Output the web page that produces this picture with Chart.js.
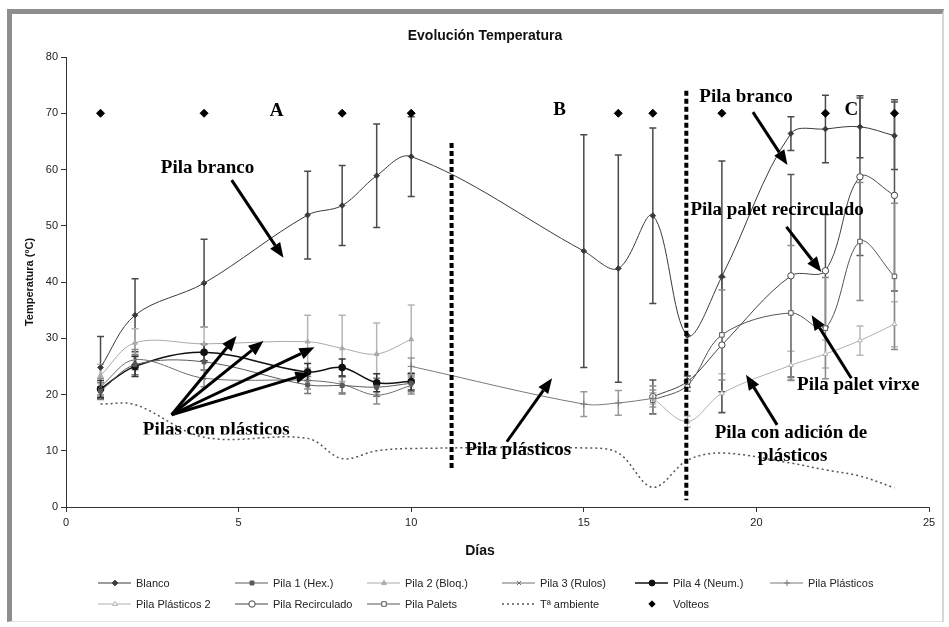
<!DOCTYPE html>
<html>
<head>
<meta charset="utf-8">
<script src="https://cdn.jsdelivr.net/npm/chart.js@4.4.0/dist/chart.umd.min.js"></script>
<style>
html, body { margin: 0; padding: 0; background: #fff; }
#marco { position: absolute; left: 7px; top: 9px; width: 930px; height: 607px;
  border-top: 5px solid #8e8e8e; border-left: 5px solid #8e8e8e;
  border-right: 2px solid #d6d6d6; border-bottom: 1px solid #e2e2e2; }
#grafico { position: absolute; left: 0; top: 0; }
</style>
</head>
<body>
<div id="marco"></div>
<canvas id="grafico" width="949" height="627"></canvas>
<script>
// dias de medida
var dias = [1, 2, 4, 7, 8, 9, 10, 15, 16, 17, 18, 19, 21, 22, 23, 24];

var blanco      = [24.8, 34.1, 39.8, 51.9, 53.6, 58.9, 62.3, 45.5, 42.4, 51.8, 30.5, 41.0, 66.4, 67.2, 67.6, 66.0];
var errBlanco   = [5.5, 6.5, 7.8, 7.8, 7.1, 9.2, 7.1, 20.7, 20.2, 15.6, 0, 20.5, 3.0, 6.0, 5.5, 6.0];
var pila1       = [20.6, 25.3, 25.8, 21.7, 21.6, 21.3, 22.0];
var pila2       = [23.4, 29.2, 29.0, 29.4, 28.2, 27.2, 29.8];
var errPila2    = [2.0, 2.5, 3.0, 4.7, 5.9, 5.5, 6.1];
var pila3       = [21.4, 26.2, 22.9, 22.5, 21.8, 19.9, 21.6];
var pila4       = [21.0, 25.0, 27.5, 24.0, 24.8, 22.1, 22.3];
var errPilas    = [1.5, 1.8, 1.5, 1.5, 1.5, 1.6, 1.5];
var plasticos   = [null, null, null, null, null, null, 25.0, 18.3, 18.5, 19.3];
var errPlast    = [0, 0, 0, 0, 0, 0, 1.5, 2.2, 2.2, 1.5];
var plasticos2  = [null, null, null, null, null, null, null, null, null, 19.3, 15.2, 20.2, 25.2, 27.2, 29.6, 32.5];
var errPlast2   = [0, 0, 0, 0, 0, 0, 0, 0, 0, 1.0, 1.0, 3.5, 2.5, 2.5, 2.6, 4.0];
var recirculado = [null, null, null, null, null, null, null, null, null, 19.6, 22.3, 28.8, 41.1, 42.0, 58.7, 55.4];
var errRecirc   = [0, 0, 0, 0, 0, 0, 0, 0, 0, 3.0, 1.0, 12.0, 18.0, 10.0, 14.0, 17.0];
var palets      = [null, null, null, null, null, null, null, null, null, 19.0, 21.6, 30.6, 34.5, 31.8, 47.2, 41.0];
var errPalets   = [0, 0, 0, 0, 0, 0, 0, 0, 0, 2.5, 1.0, 8.0, 12.0, 9.0, 10.5, 13.0];
var tAmbiente   = [18.3, 18.2, 12.4, 12.2, 8.6, 10.0, 10.4, 10.5, 9.6, 3.5, 8.3, 9.6, 7.8, 6.6, 5.5, 3.4];
var diasVolteo  = [1, 4, 8, 10, 16, 17, 19, 22, 24];
var volteo      = 70;

var ticksX = [0, 5, 10, 15, 20, 25];
var ticksY = [0, 10, 20, 30, 40, 50, 60, 70, 80];

function serie(vals) {
  var pts = [];
  for (var i = 0; i < vals.length; i++) pts.push({x: dias[i], y: vals[i]});
  return pts;
}

function linea(label, vals, color, estilo, extra) {
  var d = {
    label: label, data: serie(vals), borderColor: color, backgroundColor: color,
    borderWidth: 1, pointStyle: estilo, pointRadius: 2.8, pointBorderColor: color,
    pointBackgroundColor: color, tension: 0.35, fill: false
  };
  for (var k in extra) d[k] = extra[k];
  return d;
}

var datasets = [
  linea('Blanco', blanco, '#3a3a3a', 'rectRot', {errores: errBlanco, colorError: '#4a4a4a'}),
  linea('Pila 1 (Hex.)', pila1, '#5a5a5a', 'rect', {errores: errPilas, colorError: '#777'}),
  linea('Pila 2 (Bloq.)', pila2, '#aaaaaa', 'triangle', {errores: errPila2, colorError: '#b5b5b5'}),
  linea('Pila 3 (Rulos)', pila3, '#6e6e6e', 'crossRot', {errores: errPilas, colorError: '#8a8a8a'}),
  linea('Pila 4 (Neum.)', pila4, '#111', 'circle', {borderWidth: 1.5, pointRadius: 3, errores: errPilas, colorError: '#333'}),
  linea('Pila Plásticos', plasticos, '#7a7a7a', 'cross', {pointRadius: 3.5, errores: errPlast, colorError: '#999'}),
  linea('Pila Plásticos 2', plasticos2, '#b0b0b0', 'triangle', {pointBackgroundColor: '#fff', errores: errPlast2, colorError: '#b8b8b8'}),
  linea('Pila Recirculado', recirculado, '#444', 'circle', {pointBackgroundColor: '#fff', pointRadius: 3.2, errores: errRecirc, colorError: '#555'}),
  linea('Pila Palets', palets, '#555', 'rect', {pointBackgroundColor: '#fff', pointRadius: 3.2, errores: errPalets, colorError: '#8a8a8a'}),
  linea('Tª ambiente', tAmbiente, '#555', false, {borderDash: [2, 3], borderWidth: 1.5, pointRadius: 0}),
  {
    label: 'Volteos', data: diasVolteo.map(function (d) { return {x: d, y: volteo}; }),
    showLine: false, pointStyle: 'rectRot', pointRadius: 4, backgroundColor: '#000', borderColor: '#000',
    pointBackgroundColor: '#000', pointBorderColor: '#000'
  }
];

// textos y flechas sobre el grafico (en coordenadas de datos)
var notas = [
  {t: 'A', x: 6.1, y: 70.4},
  {t: 'B', x: 14.3, y: 70.6},
  {t: 'C', x: 22.75, y: 70.6},
  {t: 'Pila branco', x: 4.1, y: 60.2},
  {t: 'Pilas con plásticos', x: 4.35, y: 13.6, corte: 12.9},
  {t: 'Pila plásticos', x: 13.1, y: 10.1},
  {t: 'Pila branco', x: 19.7, y: 72.8},
  {t: 'Pila palet recirculado', x: 20.6, y: 52.7},
  {t: 'Pila palet virxe', x: 22.95, y: 21.6},
  {t: 'Pila con adición de', x: 21.0, y: 13.1},
  {t: 'plásticos', x: 21.05, y: 9.0}
];
var flechas = [
  [4.8, 58.1, 6.3, 44.3],
  [3.06, 16.4, 4.94, 30.4],
  [3.06, 16.4, 5.72, 29.5],
  [3.06, 16.4, 7.2, 28.4],
  [3.06, 16.4, 7.08, 23.8],
  [12.77, 11.6, 14.08, 22.9],
  [19.9, 70.2, 20.9, 60.8],
  [20.87, 49.8, 21.88, 41.8],
  [22.75, 22.9, 21.6, 34.1],
  [20.6, 14.6, 19.7, 23.5]
];
var divisiones = [[11.17, 64.7, 6.6], [17.97, 74.0, 1.2]];

var orden = [[0, 1, 2, 3, 4, 5], [6, 7, 8, 9, 10]];
var colLeyenda = [98, 235, 367, 502, 635, 770];
var filaLeyenda = [583, 604];

var errorBars = {
  id: 'errorBars',
  beforeDatasetsDraw: function (chart) {
    var ctx = chart.ctx, ys = chart.scales.y;
    chart.data.datasets.forEach(function (ds, di) {
      if (!ds.errores) return;
      var meta = chart.getDatasetMeta(di);
      ctx.save();
      ctx.strokeStyle = ds.colorError;
      ctx.lineWidth = 1.5;
      meta.data.forEach(function (p, i) {
        var v = ds.data[i].y, e = ds.errores[i];
        if (v === null || !e) return;
        var y1 = ys.getPixelForValue(v + e), y2 = ys.getPixelForValue(v - e);
        ctx.beginPath();
        ctx.moveTo(p.x, y1); ctx.lineTo(p.x, y2);
        ctx.moveTo(p.x - 3.5, y1); ctx.lineTo(p.x + 3.5, y1);
        ctx.moveTo(p.x - 3.5, y2); ctx.lineTo(p.x + 3.5, y2);
        ctx.stroke();
      });
      ctx.restore();
    });
  }
};

function flecha(ctx, x1, y1, x2, y2) {
  var a = Math.atan2(y2 - y1, x2 - x1), L = 15, W = 6;
  var bx = x2 - L * Math.cos(a), by = y2 - L * Math.sin(a);
  ctx.beginPath();
  ctx.moveTo(x1, y1); ctx.lineTo(bx, by);
  ctx.stroke();
  ctx.beginPath();
  ctx.moveTo(x2, y2);
  ctx.lineTo(bx + W * Math.sin(a), by - W * Math.cos(a));
  ctx.lineTo(bx - W * Math.sin(a), by + W * Math.cos(a));
  ctx.closePath();
  ctx.fill();
}

var anotaciones = {
  id: 'anotaciones',
  afterDatasetsDraw: function (chart) {
    var ctx = chart.ctx, xs = chart.scales.x, ys = chart.scales.y;
    ctx.save();
    // lineas de fase
    ctx.strokeStyle = '#000';
    ctx.lineWidth = 4;
    ctx.setLineDash([5, 3]);
    divisiones.forEach(function (d) {
      ctx.beginPath();
      ctx.moveTo(xs.getPixelForValue(d[0]), ys.getPixelForValue(d[1]));
      ctx.lineTo(xs.getPixelForValue(d[0]), ys.getPixelForValue(d[2]));
      ctx.stroke();
    });
    ctx.setLineDash([]);
    ctx.lineWidth = 3;
    ctx.fillStyle = '#000';
    flechas.forEach(function (f) {
      flecha(ctx, xs.getPixelForValue(f[0]), ys.getPixelForValue(f[1]), xs.getPixelForValue(f[2]), ys.getPixelForValue(f[3]));
    });
    ctx.font = 'bold 19px "Liberation Serif"';
    ctx.textAlign = 'center';
    ctx.textBaseline = 'middle';
    notas.forEach(function (n) {
      ctx.save();
      if (n.corte) {
        ctx.beginPath();
        ctx.rect(0, 0, chart.width, ys.getPixelForValue(n.corte));
        ctx.clip();
      }
      ctx.fillText(n.t, xs.getPixelForValue(n.x), ys.getPixelForValue(n.y));
      ctx.restore();
    });
    ctx.restore();
  },
  afterDraw: function (chart) {
    var ctx = chart.ctx;
    ctx.save();
    ctx.fillStyle = '#111';
    ctx.textAlign = 'center';
    ctx.textBaseline = 'middle';
    ctx.font = 'bold 14px "Liberation Sans"';
    ctx.fillText('Evolución Temperatura', 485, 36);
    ctx.fillText('Días', 480, 551);
    // leyenda
    ctx.font = '11px "Liberation Sans"';
    ctx.textAlign = 'left';
    orden.forEach(function (fila, r) {
      fila.forEach(function (di, c) {
        var ds = chart.data.datasets[di];
        var x0 = colLeyenda[c], y0 = filaLeyenda[r];
        if (ds.showLine !== false) {
          ctx.save();
          ctx.strokeStyle = ds.borderColor;
          ctx.lineWidth = ds.borderWidth;
          if (ds.borderDash) ctx.setLineDash(ds.borderDash);
          ctx.beginPath(); ctx.moveTo(x0, y0); ctx.lineTo(x0 + 33, y0); ctx.stroke();
          ctx.restore();
        }
        if (ds.pointStyle) {
          ctx.save();
          ctx.fillStyle = ds.pointBackgroundColor;
          ctx.strokeStyle = ds.pointBorderColor;
          ctx.lineWidth = 1;
          Chart.helpers.drawPoint(ctx, {pointStyle: ds.pointStyle, radius: Math.min(ds.pointRadius, 3.2), borderWidth: 1, rotation: 0}, x0 + 17, y0);
          ctx.restore();
        }
        ctx.fillStyle = '#222';
        ctx.fillText(ds.label, x0 + 38, y0 + 1);
      });
    });
    ctx.restore();
  }
};

var ctx = document.getElementById('grafico').getContext('2d');
var chart = new Chart(ctx, {
  type: 'line',
  data: { datasets: datasets },
  plugins: [errorBars, anotaciones],
  options: {
    responsive: false,
    animation: false,
    layout: { padding: { left: 16, right: 20, top: 57, bottom: 62 } },
    plugins: { legend: { display: false }, tooltip: { enabled: false } },
    scales: {
      x: {
        type: 'linear', min: 0, max: 25,
        afterBuildTicks: function (s) { s.ticks = ticksX.map(function (v) { return {value: v}; }); },
        afterFit: function (s) { s.height = 58; },
        ticks: { color: '#222', font: { family: 'Liberation Sans', size: 11 }, padding: 4 },
        grid: { drawOnChartArea: false, tickLength: 5, color: '#333' },
        border: { color: '#333' }
      },
      y: {
        min: 0, max: 80,
        afterBuildTicks: function (s) { s.ticks = ticksY.map(function (v) { return {value: v}; }); },
        afterFit: function (s) { s.width = 50; },
        ticks: { color: '#222', font: { family: 'Liberation Sans', size: 11 }, padding: 3 },
        grid: { drawOnChartArea: false, tickLength: 5, color: '#333' },
        border: { color: '#333' },
        title: { display: true, text: 'Temperatura (ºC)', color: '#111', font: { family: 'Liberation Sans', size: 11, weight: 'bold' }, padding: { top: 7 } }
      }
    }
  }
});
</script>
</body>
</html>
